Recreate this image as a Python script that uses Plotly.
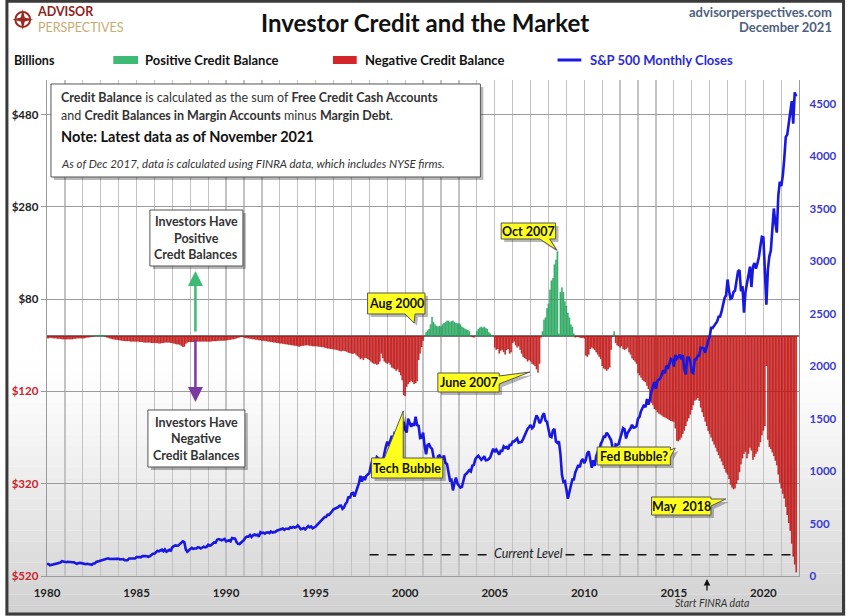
import plotly.graph_objects as go

# ---------------- data (monthly, Jan 1980 .. Nov 2021) ----------------
start_year = 1980

sp500_monthly = [
    114.2, 113.7, 102.1, 106.3, 111.2, 114.2, 121.7, 122.4, 125.5, 127.5, 140.5, 135.8,   # 1980
    129.6, 131.3, 136.0, 132.8, 132.6, 131.2, 130.9, 122.8, 116.2, 121.9, 126.4, 122.6,   # 1981
    120.4, 113.1, 112.0, 116.4, 111.9, 109.6, 107.1, 119.5, 120.4, 133.7, 138.5, 140.6,   # 1982
    145.3, 148.1, 153.0, 164.4, 162.4, 168.1, 162.6, 164.4, 166.1, 163.6, 166.4, 164.9,   # 1983
    163.4, 157.1, 159.2, 160.1, 150.6, 153.2, 150.7, 166.7, 166.1, 166.1, 163.6, 167.2,   # 1984
    179.6, 181.2, 180.7, 179.8, 189.6, 191.9, 190.9, 188.6, 182.1, 189.8, 202.2, 211.3,   # 1985
    211.8, 226.9, 238.9, 235.5, 247.4, 250.8, 236.1, 252.9, 231.3, 244.0, 249.2, 242.2,   # 1986
    274.1, 284.2, 291.7, 288.4, 290.1, 304.0, 318.7, 329.8, 321.8, 251.8, 230.3, 247.1,   # 1987
    257.1, 267.8, 258.9, 261.3, 262.2, 273.5, 272.0, 261.5, 271.9, 279.0, 273.7, 277.7,   # 1988
    297.5, 288.9, 294.9, 309.6, 320.5, 318.0, 346.1, 351.5, 349.2, 340.4, 346.0, 353.4,   # 1989
    329.1, 331.9, 339.9, 330.8, 361.2, 358.0, 356.2, 322.6, 306.1, 304.0, 322.2, 330.2,   # 1990
    343.9, 367.1, 375.2, 375.3, 389.8, 371.2, 387.8, 395.4, 387.9, 392.5, 375.2, 417.1,   # 1991
    408.8, 412.7, 403.7, 415.0, 415.4, 408.1, 424.2, 414.0, 417.8, 418.7, 431.4, 435.7,   # 1992
    438.8, 443.4, 451.7, 440.2, 450.2, 450.5, 448.1, 463.6, 458.9, 467.8, 461.8, 466.4,   # 1993
    481.6, 467.1, 445.8, 450.9, 456.5, 444.3, 458.3, 475.5, 462.7, 472.4, 453.7, 459.3,   # 1994
    470.4, 487.4, 500.7, 514.7, 533.4, 544.8, 562.1, 561.9, 584.4, 581.5, 605.4, 615.9,   # 1995
    636.0, 640.4, 645.5, 654.2, 669.1, 670.6, 640.0, 652.0, 687.3, 705.3, 757.0, 740.7,   # 1996
    786.2, 790.8, 757.1, 801.3, 848.3, 885.1, 954.3, 899.5, 947.3, 914.6, 955.4, 970.4,   # 1997
    980.3, 1049.3, 1101.8, 1111.8, 1090.8, 1133.8, 1120.7, 957.3, 1017.0, 1098.7, 1163.6, 1229.2,   # 1998
    1279.6, 1238.3, 1286.4, 1335.2, 1301.8, 1372.7, 1328.7, 1320.4, 1282.7, 1362.9, 1388.9, 1469.3,  # 1999
    1394.5, 1366.4, 1498.6, 1452.4, 1420.6, 1454.6, 1430.8, 1517.7, 1436.5, 1429.4, 1315.2, 1320.3,  # 2000
    1366.0, 1239.9, 1160.3, 1249.5, 1255.8, 1224.4, 1211.2, 1133.6, 1040.9, 1059.8, 1139.5, 1148.1,  # 2001
    1130.2, 1106.7, 1147.4, 1076.9, 1067.1, 989.8, 911.6, 916.1, 815.3, 885.8, 936.3, 879.8,         # 2002
    855.7, 841.2, 848.2, 916.9, 963.6, 974.5, 990.3, 1008.0, 996.0, 1050.7, 1058.2, 1111.9,          # 2003
    1131.1, 1144.9, 1126.2, 1107.3, 1120.7, 1140.8, 1101.7, 1104.2, 1114.6, 1130.2, 1173.8, 1211.9,  # 2004
    1181.3, 1203.6, 1180.6, 1156.9, 1191.5, 1191.3, 1234.2, 1220.3, 1228.8, 1207.0, 1249.5, 1248.3,  # 2005
    1280.1, 1280.7, 1294.9, 1310.6, 1270.1, 1270.2, 1276.7, 1303.8, 1335.9, 1377.9, 1400.6, 1418.3,  # 2006
    1438.2, 1406.8, 1420.9, 1482.4, 1530.6, 1503.4, 1455.3, 1474.0, 1526.8, 1549.4, 1481.1, 1468.4,  # 2007
    1378.6, 1330.6, 1322.7, 1385.6, 1400.4, 1280.0, 1267.4, 1282.8, 1166.4, 968.8, 896.2, 903.3,     # 2008
    825.9, 735.1, 797.9, 872.8, 919.1, 919.3, 987.5, 1020.6, 1057.1, 1036.2, 1095.6, 1115.1,         # 2009
    1073.9, 1104.5, 1169.4, 1186.7, 1089.4, 1030.7, 1101.6, 1049.3, 1141.2, 1183.3, 1180.6, 1257.6,  # 2010
    1286.1, 1327.2, 1325.8, 1363.6, 1345.2, 1320.6, 1292.3, 1218.9, 1131.4, 1253.3, 1247.0, 1257.6,  # 2011
    1312.4, 1365.7, 1408.5, 1397.9, 1310.3, 1362.2, 1379.3, 1406.6, 1440.7, 1412.2, 1416.2, 1426.2,  # 2012
    1498.1, 1514.7, 1569.2, 1597.6, 1630.7, 1606.3, 1685.7, 1633.0, 1681.6, 1756.5, 1805.8, 1848.4,  # 2013
    1782.6, 1859.5, 1872.3, 1884.0, 1923.6, 1960.2, 1930.7, 2003.4, 1972.3, 2018.1, 2067.6, 2058.9,  # 2014
    1995.0, 2104.5, 2067.9, 2085.5, 2107.4, 2063.1, 2103.8, 1972.2, 1920.0, 2079.4, 2080.4, 2043.9,  # 2015
    1940.2, 1932.2, 2059.7, 2065.3, 2097.0, 2098.9, 2173.6, 2171.0, 2168.3, 2126.2, 2198.8, 2238.8,  # 2016
    2278.9, 2363.6, 2362.7, 2384.2, 2411.8, 2423.4, 2470.3, 2471.7, 2519.4, 2575.3, 2647.6, 2673.6,  # 2017
    2823.8, 2713.8, 2640.9, 2648.1, 2705.3, 2718.4, 2816.3, 2901.5, 2914.0, 2711.7, 2760.2, 2506.9,  # 2018
    2704.1, 2784.5, 2834.4, 2945.8, 2752.1, 2941.8, 2980.4, 2926.5, 2976.7, 3037.6, 3141.0, 3230.8,  # 2019
    3225.5, 2954.2, 2584.6, 2912.4, 3044.3, 3100.3, 3271.1, 3500.3, 3363.0, 3270.0, 3621.6, 3756.1,  # 2020
    3714.2, 3811.2, 3972.9, 4181.2, 4204.1, 4297.5, 4395.3, 4522.7, 4307.5, 4605.4, 4567.0,          # 2021
]

credit_balance_monthly = [
    -5, -5, -4, -4, -5, -5, -5, -6, -6, -6, -7, -7,                 # 1980
    -7, -7, -7, -7, -7, -7, -6, -6, -5, -5, -5, -5,                 # 1981
    -5, -5, -4, -3, -3, -2, -1, -1, 1, 2, 2, 2,                     # 1982
    2, 2, 1, -1, -3, -4, -5, -6, -7, -7, -8, -8,                    # 1983
    -9, -9, -10, -10, -11, -11, -11, -11, -12, -12, -12, -12,       # 1984
    -12, -12, -13, -13, -13, -14, -14, -14, -14, -14, -15, -15,     # 1985
    -15, -15, -15, -16, -16, -15, -15, -14, -14, -14, -14, -15,     # 1986
    -15, -16, -17, -18, -18, -19, -21, -24, -23, -17, -14, -13,     # 1987
    -13, -13, -13, -12, -12, -12, -12, -12, -12, -12, -12, -12,     # 1988
    -12, -12, -12, -11, -11, -11, -11, -10, -10, -10, -10, -10,     # 1989
    -9, -9, -8, -8, -7, -7, -6, -5, -4, -3, -2, -2,                 # 1990
    -3, -4, -5, -5, -6, -6, -7, -7, -8, -8, -9, -9,                 # 1991
    -10, -10, -11, -11, -12, -12, -13, -13, -14, -14, -15, -15,     # 1992
    -16, -16, -17, -17, -18, -18, -19, -19, -20, -20, -21, -21,     # 1993
    -22, -23, -22, -21, -21, -20, -20, -20, -21, -21, -22, -22,     # 1994
    -22, -22, -23, -23, -24, -24, -25, -26, -27, -27, -28, -28,     # 1995
    -29, -29, -30, -31, -32, -33, -32, -32, -33, -34, -36, -37,     # 1996
    -38, -39, -37, -40, -43, -46, -50, -48, -52, -47, -48, -50,     # 1997
    -52, -55, -58, -60, -60, -62, -61, -55, -38, -48, -55, -58,     # 1998
    -60, -58, -62, -68, -70, -72, -75, -72, -78, -85, -96, -128,    # 1999
    -130, -110, -104, -100, -97, -100, -104, -102, -98, -52, -38, -24,  # 2000
    -10, 2, 8, 12, 15, 25, 41, 30, 25, 22, 20, 22,                  # 2001
    20, 25, 28, 30, 33, 33, 30, 32, 33, 30, 28, 27,                 # 2002
    27, 25, 20, 18, 16, 14, 13, 10, 0, -2, -3, 2,                   # 2003
    10, 15, 18, 20, 18, 20, 17, 15, 8, 5, 2, 1,                     # 2004
    -25, -30, -28, -38, -32, -30, -35, -40, -30, -28, -38, -35,     # 2005
    -15, -12, -20, -25, -22, -30, -38, -45, -48, -50, -55, -52,     # 2006
    -55, -60, -62, -65, -72, -79, -60, -3, 10, 35, 40, 60,          # 2007
    70, 100, 120, 125, 155, 165, 182, 5, 95, 105, 95, 75,           # 2008
    65, 50, 40, 25, 20, 5, -3, -2, -2, -3, -4, -4,                  # 2009
    -5, -42, -45, -40, -28, -25, -27, -30, -35, -40, -45, -50,      # 2010
    -65, -70, -72, -75, -72, -68, -30, -2, 10, -15, -20, -22,       # 2011
    -25, -22, -28, -30, -28, -25, -35, -40, -48, -52, -55, -60,     # 2012
    -80, -85, -90, -95, -98, -100, -108, -115, -135, -145, -150, -158,      # 2013
    -160, -165, -168, -170, -172, -175, -176, -178, -180, -182, -184, -185, # 2014
    -186, -200, -227, -228, -225, -220, -212, -205, -195, -185, -178, -170, # 2015
    -160, -150, -140, -138, -134, -140, -155, -165, -175, -185, -195, -205, # 2016
    -212, -220, -228, -235, -242, -250, -258, -265, -272, -280, -288, -296, # 2017
    -300, -310, -322, -328, -332, -330, -320, -312, -295, -278, -265, -255, # 2018
    -250, -265, -255, -242, -248, -268, -262, -255, -250, -240, -230, -215, # 2019
    -205, -195, -65, -225, -240, -245, -252, -260, -270, -280, -300, -318,  # 2020
    -330, -342, -352, -370, -388, -405, -422, -450, -478, -495, -512,       # 2021
]

current_level = -474
left_tick_vals = [-520, -320, -120, 80, 280, 480]
right_tick_vals = [0, 500, 1000, 1500, 2000, 2500, 3000, 3500, 4000, 4500]
year_ticks = list(range(1980, 2022))

# ---------------- derived ----------------
months = [start_year + i / 12 for i in range(len(credit_balance_monthly))]
pos_vals = [v if v > 0 else None for v in credit_balance_monthly]
neg_vals = [v if v <= 0 else None for v in credit_balance_monthly]

W, H = 849, 616
L, R, T, B = 42, 47, 80, 40
PW, PH = W - L - R, H - T - B


def px(x):
    return (x - L) / PW


def py(y):
    return (H - B - y) / PH


FONT = "Lato"

fig = go.Figure()
fig.add_bar(x=months, y=pos_vals, width=1 / 12,
            marker=dict(color="rgba(40,175,100,0.92)", line=dict(width=0.4, color="rgba(0,90,40,0.25)")),
            name="Positive Credit Balance")
fig.add_bar(x=months, y=neg_vals, width=1 / 12,
            marker=dict(color="rgba(204,22,22,0.9)", line=dict(width=0.4, color="rgba(110,0,0,0.25)")),
            name="Negative Credit Balance")
fig.add_scatter(x=months[:len(sp500_monthly)], y=sp500_monthly, yaxis="y2", mode="lines",
                line=dict(color="#1818e0", width=2.6), name="S&P 500 Monthly Closes")

left_text = []
for v in left_tick_vals:
    if v < 0:
        left_text.append(f'<span style="color:#c8262c">${-v}</span>')
    else:
        left_text.append(f"${v}")

shapes = []
annotations = []

# background gradient (bottom part becomes light grey)
n_bands = 24
y_start, y_end = 360, 616
for i in range(n_bands):
    y0 = y_start + (y_end - y_start) * i / n_bands
    y1 = y_start + (y_end - y_start) * (i + 1) / n_bands
    g = int(255 - (255 - 208) * ((i + 0.5) / n_bands) ** 1.3)
    shapes.append(dict(type="rect", xref="paper", yref="paper", x0=px(0), x1=px(W), y0=py(y1), y1=py(y0),
                       fillcolor=f"rgb({g},{g},{g})", line=dict(width=0), layer="below"))


def text(x, y, s, size=12, color="#111", anchor="left", bold=False, italic=False, family=FONT):
    if bold:
        s = f"<b>{s}</b>"
    if italic:
        s = f"<i>{s}</i>"
    annotations.append(dict(x=px(x), y=py(y), xref="paper", yref="paper", text=s, showarrow=False,
                            xanchor=anchor, yanchor="middle", borderpad=0,
                            font=dict(family=family, size=size, color=color)))


def poly_path(pts):
    return "M " + " L ".join(f"{px(a):.5f},{py(b):.5f}" for a, b in pts) + " Z"


def box(x0, y0, x1, y1, fill="white", line="#555", shadow=True, edge=None, b1=0, b2=0, tip=(0, 0)):
    pts = [(x0, y0)]
    if edge == "top":
        pts += [(b1, y0), tip, (b2, y0)]
    pts.append((x1, y0))
    if edge == "right":
        pts += [(x1, b1), tip, (x1, b2)]
    pts.append((x1, y1))
    if edge == "bottom":
        pts += [(b2, y1), tip, (b1, y1)]
    pts.append((x0, y1))
    if shadow:
        sp = [(a + 3, b + 3) for a, b in pts]
        shapes.append(dict(type="path", xref="paper", yref="paper", path=poly_path(sp),
                           fillcolor="rgba(0,0,0,0.28)", line=dict(width=0)))
    shapes.append(dict(type="path", xref="paper", yref="paper", path=poly_path(pts),
                       fillcolor=fill, line=dict(color=line, width=1)))


# ---- header ----
text(424, 23, "Investor Credit and the Market", size=24, color="#111", anchor="center", bold=True)
text(836, 12, "advisorperspectives.com", size=13, color="#4f5f80", anchor="right", bold=True)
text(836, 27, "December 2021", size=13, color="#4f5f80", anchor="right", bold=True)

# logo
shapes.append(dict(type="circle", xref="paper", yref="paper", x0=px(10), x1=px(25), y0=py(27), y1=py(12),
                   line=dict(color="#9b2a22", width=2), fillcolor="rgba(0,0,0,0)"))
shapes.append(dict(type="path", xref="paper", yref="paper",
                   path=poly_path([(17.5, 9), (19.5, 17.5), (28, 19.5), (19.5, 21.5), (17.5, 30),
                                   (15.5, 21.5), (7, 19.5), (15.5, 17.5)]),
                   fillcolor="#9b2a22", line=dict(width=0)))
annotations.append(dict(x=px(31), y=py(19.5), xref="paper", yref="paper", showarrow=False,
                        xanchor="left", yanchor="middle", borderpad=0, align="left",
                        text='<span style="color:#8e1f1f"><b>ADVISOR</b></span><br>'
                             '<span style="color:#c9ab72">PERSPECTIVES</span>',
                        font=dict(family=FONT, size=12.5)))

# axis caption & legend
text(8, 61, "Billions", size=12.5, color="#111", bold=True)
shapes.append(dict(type="rect", xref="paper", yref="paper", x0=px(109), x1=px(134), y0=py(64), y1=py(56),
                   fillcolor="#3dba76", line=dict(width=0)))
text(140, 60, "Positive Credit Balance", size=13, color="#111", bold=True)
shapes.append(dict(type="rect", xref="paper", yref="paper", x0=px(331), x1=px(355), y0=py(64), y1=py(56),
                   fillcolor="#d2262a", line=dict(width=0)))
text(362, 60, "Negative Credit Balance", size=13, color="#111", bold=True)
shapes.append(dict(type="line", xref="paper", yref="paper", x0=px(558), x1=px(582), y0=py(60), y1=py(60),
                   line=dict(color="#1818e0", width=3)))
text(590, 60, "S&P 500 Monthly Closes", size=13, color="#2a2ad8", bold=True)

# ---- info box ----
box(46, 84, 480, 177)
text(55, 98, "<b>Credit Balance</b> is calculated as the sum of <b>Free Credit Cash Accounts</b>",
     size=12.5, color="#333")
text(55, 115, "and <b>Credit Balances in Margin Accounts</b> minus <b>Margin Debt</b>.", size=12.5, color="#333")
text(55, 137, "Note: Latest data as of November 2021", size=14.5, color="#111", bold=True)
text(55, 163, "As of Dec 2017, data is calculated using FINRA data, which includes NYSE firms.",
     size=11.5, color="#333", italic=True)

# positive / negative explanation boxes
box(146, 210, 240, 266)
text(193, 222, "Investors Have", size=12.5, color="#333", anchor="center", bold=True)
text(193, 238, "Positive", size=12.5, color="#333", anchor="center", bold=True)
text(193, 254, "Credt Balances", size=12.5, color="#333", anchor="center", bold=True)
box(144, 410, 242, 467)
text(193, 422, "Investors Have", size=12.5, color="#333", anchor="center", bold=True)
text(193, 438, "Negative", size=12.5, color="#333", anchor="center", bold=True)
text(193, 455, "Credit Balances", size=12.5, color="#333", anchor="center", bold=True)

annotations.append(dict(x=px(192), y=py(271), xref="paper", yref="paper", ax=0, ay=62, axref="pixel",
                        ayref="pixel", showarrow=True, arrowhead=2, arrowsize=1.2, arrowwidth=2.5,
                        arrowcolor="#3dba76", text=""))
annotations.append(dict(x=px(192), y=py(402), xref="paper", yref="paper", ax=0, ay=-64, axref="pixel",
                        ayref="pixel", showarrow=True, arrowhead=2, arrowsize=1.2, arrowwidth=2.5,
                        arrowcolor="#7a3aa0", text=""))

# ---- yellow callouts ----
YEL = "#ffff1e"
box(366, 293, 424, 314, fill=YEL, edge="bottom", b1=404, b2=414, tip=(413, 323))
text(395, 303.5, "Aug 2000", size=12.5, color="#111", anchor="center", bold=True)
box(501, 223, 556, 239, fill=YEL, edge="bottom", b1=540, b2=550, tip=(557, 250))
text(528.5, 231, "Oct 2007", size=12.5, color="#111", anchor="center", bold=True)
box(437, 373, 499, 392, fill=YEL, edge="right", b1=376, b2=384, tip=(530, 372))
text(468, 382.5, "June 2007", size=12.5, color="#111", anchor="center", bold=True)
box(370, 458, 442, 478, fill=YEL, edge="top", b1=383, b2=402, tip=(402, 411))
text(406, 468, "Tech Bubble", size=12.5, color="#111", anchor="center", bold=True)
box(598, 447, 672, 465, fill=YEL, edge="right", b1=450, b2=457, tip=(677, 448))
text(635, 456, "Fed Bubble?", size=12.5, color="#111", anchor="center", bold=True)
box(653, 497, 713, 515, fill=YEL, edge="right", b1=499, b2=506, tip=(728, 499))
text(683, 506, "May  2018", size=12.5, color="#111", anchor="center", bold=True)

# ---- current level ----
for xa, xb in [(368, 491), (566, 798)]:
    shapes.append(dict(type="line", xref="paper", yref="y", x0=px(xa), x1=px(xb), y0=current_level,
                       y1=current_level, line=dict(color="#111", width=1.5, dash="dash")))
text(528.5, 553, "Current Level", size=12.5, color="#222", anchor="center", italic=True)

# FINRA start arrow
annotations.append(dict(x=px(709), y=py(579), xref="paper", yref="paper", ax=0, ay=13, axref="pixel",
                        ayref="pixel", showarrow=True, arrowhead=2, arrowsize=1, arrowwidth=1.3,
                        arrowcolor="#111", text=""))
text(714, 603, "Start FINRA data", size=10.5, color="#333", anchor="center", italic=True)

# frame
shapes.append(dict(type="rect", xref="paper", yref="paper", x0=px(1.5), x1=px(W - 2), y0=py(H - 2), y1=py(1.2),
                   line=dict(color="#3a3a3a", width=3), fillcolor="rgba(0,0,0,0)", layer="above"))

fig.update_layout(
    width=W, height=H, autosize=False,
    margin=dict(l=L, r=R, t=T, b=B, pad=0),
    paper_bgcolor="white", plot_bgcolor="rgba(0,0,0,0)",
    showlegend=False, barmode="overlay", bargap=0,
    font=dict(family=FONT, size=11, color="#111"),
    xaxis=dict(range=[1980, 1980 + PW / 18.1], tickmode="array", tickvals=year_ticks,
               ticktext=[f"<b>{y}</b>" if y % 5 == 0 else "" for y in year_ticks],
               showgrid=True, gridcolor="#c2c2c2", gridwidth=1.3, zeroline=False,
               showline=True, linecolor="#9a9a9a", linewidth=1.3, ticks="",
               tickfont=dict(family=FONT, size=11.5, color="#222"), ticklabelstandoff=6),
    yaxis=dict(range=[-520, -520 + PH / 92.3 * 200], tickmode="array", tickvals=left_tick_vals,
               ticktext=[f"<b>{t}</b>" for t in left_text], showgrid=True, gridcolor="#9c9c9c", gridwidth=1,
               zeroline=True, zerolinecolor="#7a7a7a", zerolinewidth=1.5,
               showline=True, linecolor="#9a9a9a", linewidth=1.3, ticks="outside", ticklen=5,
               tickcolor="#9a9a9a", tickfont=dict(family=FONT, size=11.5, color="#222")),
    yaxis2=dict(range=[0, PH / 52.5 * 500], overlaying="y", side="right", tickmode="array",
                tickvals=right_tick_vals, ticktext=[f"<b>{v}</b>" for v in right_tick_vals],
                showgrid=False, zeroline=False, showline=True, linecolor="#9a9a9a", linewidth=1.3,
                ticks="outside", ticklen=7, tickcolor="rgba(0,0,0,0)",
                tickfont=dict(family=FONT, size=11.5, color="#3a3ad0")),
    shapes=shapes, annotations=annotations,
)

fig.write_html("out.html", config={"displayModeBar": False, "staticPlot": True},
               post_script="document.body.style.margin='0';document.body.style.padding='0';"
                           "document.documentElement.style.overflow='hidden';"
                           "document.body.style.overflow='hidden';")
